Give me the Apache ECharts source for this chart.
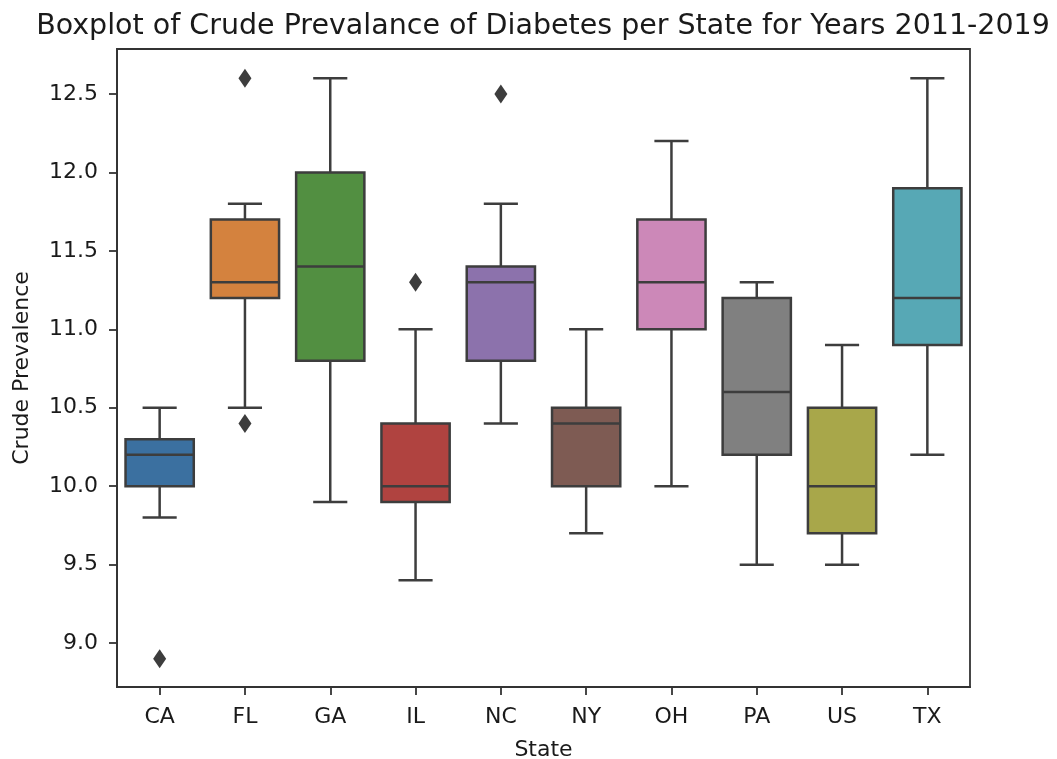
<!DOCTYPE html>
<html>
<head>
<meta charset="utf-8">
<script src="https://cdn.jsdelivr.net/npm/echarts@6/dist/echarts.min.js"></script>
<style>
html,body{margin:0;padding:0;background:#fff;}
#chart{width:1057px;height:759px;}
</style>
</head>
<body>
<div id="chart"></div>
<script>
// ---- data ----
const states = ['CA','FL','GA','IL','NC','NY','OH','PA','US','TX'];
const whiskerLow  = [9.8, 10.5, 9.9, 9.4, 10.4, 9.7, 10.0, 9.5, 9.5, 10.2];
const q1          = [10.0, 11.2, 10.8, 9.9, 10.8, 10.0, 11.0, 10.2, 9.7, 10.9];
const median      = [10.2, 11.3, 11.4, 10.0, 11.3, 10.4, 11.3, 10.6, 10.0, 11.2];
const q3          = [10.3, 11.7, 12.0, 10.4, 11.4, 10.5, 11.7, 11.2, 10.5, 11.9];
const whiskerHigh = [10.5, 11.8, 12.6, 11.0, 11.8, 11.0, 12.2, 11.3, 10.9, 12.6];
const outlierState = ['CA','FL','FL','IL','NC'];
const outlierValue = [8.9, 12.6, 10.4, 11.3, 12.5];
const yTicks = [9.0, 9.5, 10.0, 10.5, 11.0, 11.5, 12.0, 12.5];
const boxColors = ['#3b70a0','#d4823e','#528f41','#b04340','#8c72ac','#7e5b53','#cc88b8','#808080','#a8a74a','#57a8b5'];

const edge = '#3d3d3d';
const font = 'DejaVu Sans';

const boxData = states.map((s, i) => [i, whiskerLow[i], q1[i], median[i], q3[i], whiskerHigh[i]]);
const outData = outlierState.map((s, i) => [states.indexOf(s), outlierValue[i]]);

function renderBox(params, api) {
  const i = api.value(0);
  const bw = api.size([1, 0])[0] * 0.8;
  const cw = bw / 2;
  const pLow = api.coord([i, api.value(1)]);
  const pQ1 = api.coord([i, api.value(2)]);
  const pMed = api.coord([i, api.value(3)]);
  const pQ3 = api.coord([i, api.value(4)]);
  const pHigh = api.coord([i, api.value(5)]);
  const x = pQ1[0];
  const ls = {stroke: edge, lineWidth: 2.5};
  return {
    type: 'group',
    children: [
      {type: 'line', shape: {x1: x, y1: pQ1[1], x2: x, y2: pLow[1]}, style: ls},
      {type: 'line', shape: {x1: x, y1: pQ3[1], x2: x, y2: pHigh[1]}, style: ls},
      {type: 'line', shape: {x1: x - cw/2, y1: pLow[1], x2: x + cw/2, y2: pLow[1]}, style: ls},
      {type: 'line', shape: {x1: x - cw/2, y1: pHigh[1], x2: x + cw/2, y2: pHigh[1]}, style: ls},
      {type: 'rect', shape: {x: x - bw/2, y: pQ3[1], width: bw, height: pQ1[1] - pQ3[1]},
       style: {fill: boxColors[i], stroke: edge, lineWidth: 2.5}},
      {type: 'line', shape: {x1: x - bw/2, y1: pMed[1], x2: x + bw/2, y2: pMed[1]}, style: ls}
    ]
  };
}

const chart = echarts.init(document.getElementById('chart'), null, {renderer: 'canvas'});
chart.setOption({
  animation: false,
  backgroundColor: '#ffffff',
  title: {
    text: 'Boxplot of Crude Prevalance of Diabetes per State for Years 2011-2019',
    left: 538, top: 7, textAlign: 'center',
    textStyle: {fontFamily: font, fontSize: 28.5, fontWeight: 'normal', color: '#1a1a1a'}
  },
  grid: {left: 117, right: 87, top: 49, bottom: 72, containLabel: false, outerBoundsMode: 'none',
    show: true, borderColor: '#333', borderWidth: 1.8, backgroundColor: 'transparent'},
  xAxis: {
    type: 'category', data: states,
    name: 'State', nameLocation: 'middle', nameGap: 52,
    nameTextStyle: {fontFamily: font, fontSize: 22, color: '#1a1a1a'},
    axisLine: {show: true, lineStyle: {color: '#333', width: 1.8}},
    axisTick: {show: true, alignWithLabel: true, length: 8, lineStyle: {color: '#333', width: 1.8}},
    axisLabel: {fontFamily: font, fontSize: 22, color: '#1a1a1a', margin: 19},
    splitLine: {show: false}
  },
  yAxis: {
    type: 'value', min: 8.72, max: 12.787,
    name: 'Crude Prevalence', nameLocation: 'middle', nameGap: 84, nameRotate: 90,
    nameTextStyle: {fontFamily: font, fontSize: 22, color: '#1a1a1a'},
    axisLine: {show: true, lineStyle: {color: '#333', width: 1.8}},
    axisTick: {show: true, length: 8, customValues: yTicks, lineStyle: {color: '#333', width: 1.8}},
    axisLabel: {fontFamily: font, fontSize: 22, color: '#1a1a1a', margin: 19, customValues: yTicks,
      formatter: v => Number(v).toFixed(1)},
    splitLine: {show: false}
  },
  series: [
    {
      type: 'custom', renderItem: renderBox, data: boxData,
      encode: {x: 0, y: [1, 2, 3, 4, 5]}, clip: false
    },
    {
      type: 'scatter', data: outData, symbol: 'diamond', symbolSize: [13, 19],
      itemStyle: {color: edge, opacity: 1}
    }
  ]
});
</script>
</body>
</html>
